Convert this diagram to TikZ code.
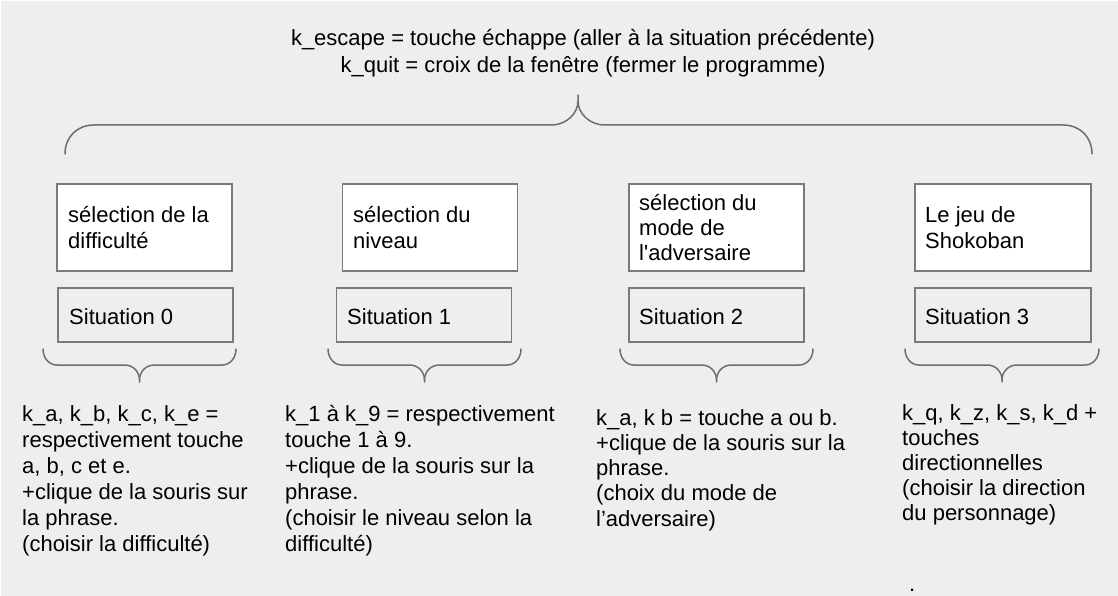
\documentclass[tikz,border=0pt]{standalone}
\usepackage{fontspec}
\setmainfont{Liberation Sans}
\newfontfamily\plainfont{Liberation Sans}
\definecolor{bgcol}{HTML}{EEEEEE}
\definecolor{boxline}{HTML}{7A7A7A}
\definecolor{braceline}{HTML}{6E6E6E}
\newcommand\mylines[2][l]{\begin{tabular}[t]{@{}#1@{}}#2\end{tabular}}
\newcommand\smallbrace[3]{%
  \draw[bracestyle] (#1,349) .. controls (#1,358) and (#1+6,365) .. (#1+14,365)
    -- (#3-15,365) .. controls (#3-6,365) and (#3,372) .. (#3,380) -- (#3,382);
  \draw[bracestyle] (#3,380) .. controls (#3,372) and (#3+6,365) .. (#3+15,365)
    -- (#2-14,365) .. controls (#2-6,365) and (#2,358) .. (#2,349);}
\begin{document}
\begin{tikzpicture}[x=1pt,y=-1pt,
  txt/.style={inner sep=0pt, anchor=base west, font=\fontsize{22}{26}\selectfont},
  txtb/.style={txt, font=\fontsize{22}{25.3}\selectfont},
  txtc/.style={txt, font=\fontsize{22}{25}\selectfont},
  topbox/.style={draw=boxline, line width=1.6pt, fill=white, minimum width=175pt, minimum height=87pt, inner sep=0pt},
  sitbox/.style={draw=boxline, line width=1.6pt, minimum width=175pt, minimum height=54pt, inner sep=0pt},
  bracestyle/.style={draw=braceline, line width=1.5pt, line cap=round}]
\useasboundingbox (0,0) rectangle (1118,596);
\fill[white] (0,0) rectangle (1118,596);
\fill[bgcol] (1,1) rectangle (1118,596);

% title
\node[txt, anchor=base, font=\fontsize{22}{27}\selectfont] (title) at (583,46)
  {\mylines[c]{k\_escape = touche échappe (aller à la situation précédente)\\
   k\_quit = croix de la fenêtre (fermer le programme)}};

% big brace
\draw[bracestyle] (65,154) .. controls (65,137) and (77,125) .. (94,125)
  -- (551,125) .. controls (567,125) and (578,113) .. (578,101) -- (578,95);
\draw[bracestyle] (578,101) .. controls (578,113) and (589,125) .. (605,125)
  -- (1063,125) .. controls (1080,125) and (1092,137) .. (1092,154);

% top boxes
\node[topbox] (b1) at (144.5,227.5) {};
\node[topbox] (b2) at (430,227.5) {};
\node[topbox] (b3) at (716.5,227.5) {};
\node[topbox, minimum width=176pt] (b4) at (1003,227.5) {};
\node[txt] (t1) at (68,222) {\mylines{sélection de la\\difficulté}};
\node[txt] (t2) at (353,222) {\mylines{sélection du\\niveau}};
\node[txtb] (t3) at (639,210) {\mylines{sélection du\\mode de\\{\plainfont l'adversaire}}};
\node[txt] (t4) at (925,222) {\mylines{Le jeu de\\Shokoban}};

% situation boxes
\node[sitbox] (s1) at (145.5,315) {};
\node[sitbox] (s2) at (424,315) {};
\node[sitbox] (s3) at (716.5,315) {};
\node[sitbox, minimum width=176pt] (s4) at (1003,315) {};
\node[txt] (l1) at (69,324) {Situation 0};
\node[txt] (l2) at (347,324) {Situation 1};
\node[txt] (l3) at (639,324) {Situation 2};
\node[txt] (l4) at (925,324) {Situation 3};

% small braces
\smallbrace{43}{236}{139.5}
\smallbrace{328}{521}{424.5}
\smallbrace{620}{813}{716.5}
\smallbrace{905}{1099}{1002}

% descriptions
\node[txt] (d1) at (22,421.5) {\mylines{k\_a, k\_b, k\_c, k\_e =\\respectivement touche\\a, b, c et e.\\+clique de la souris sur\\la phrase.\\(choisir la difficulté)}};
\node[txt] (d2) at (285,421.5) {\mylines{k\_1 à k\_9 = respectivement\\touche 1 à 9.\\+clique de la souris sur la\\phrase.\\(choisir le niveau selon la\\difficulté)}};
\node[txtb] (d3) at (596,425) {\mylines{k\_a, k b = touche a ou b.\\+clique de la souris sur la\\phrase.\\(choix du mode de\\l’adversaire)}};
\node[txtc] (d4) at (902,420.7) {\mylines{k\_q, k\_z, k\_s, k\_d +\\touches\\directionnelles\\(choisir la direction\\du personnage)}};
\node[txt] (dot) at (909,591) {.};
\end{tikzpicture}
\end{document}
